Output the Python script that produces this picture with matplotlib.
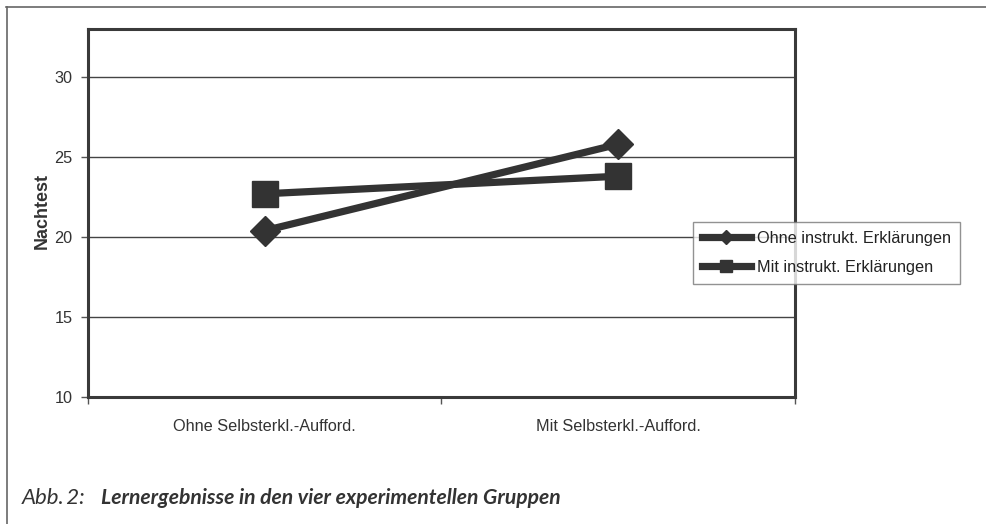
import matplotlib
matplotlib.use("Agg")
import matplotlib.pyplot as plt
from matplotlib.lines import Line2D

# ---- data ----
categories = ["Ohne Selbsterkl.-Aufford.", "Mit Selbsterkl.-Aufford."]
series_names = ["Ohne instrukt. Erklärungen", "Mit instrukt. Erklärungen"]
ohne_instr = [20.4, 25.8]
mit_instr = [22.7, 23.8]
y_ticks = [10, 15, 20, 25, 30]
y_label = "Nachtest"
caption_prefix = "Abb.\u20092:"
caption_text = "Lernergebnisse in den vier experimentellen Gruppen"

W, H = 987, 524
plt.rcParams['font.family'] = ['Liberation Sans', 'DejaVu Sans']
fig = plt.figure(figsize=(W / 100, H / 100), dpi=100)

def fx(px):
    return px / W

def fy(py):
    return 1 - py / H

# outer frame (left and top edges)
fig.add_artist(Line2D([fx(6.5), fx(6.5)], [fy(7), fy(530)], color="#666666", lw=1.2))
fig.add_artist(Line2D([fx(6), fx(1000)], [fy(7), fy(7)], color="#666666", lw=1.2))

L, R, T, B = 88, 795, 29, 397
ax = fig.add_axes([fx(L), fy(B), fx(R - L), (B - T) / H])

dark = "#333333"
x = list(range(len(categories)))
ax.plot(x, ohne_instr, color=dark, lw=5.2, marker="D", markersize=15,
        label=series_names[0], zorder=3)
ax.plot(x, mit_instr, color=dark, lw=5.2, marker="s", markersize=19,
        label=series_names[1], zorder=3)

fs = 11.7
ax.set_xlim(-0.5, 1.5)
ax.set_ylim(10, 33)
ax.set_yticks(y_ticks)
ax.set_yticklabels([str(v) for v in y_ticks])
ax.tick_params(axis="y", length=5, width=1, color="#555555", pad=6,
               labelsize=fs, labelcolor="#333333", direction="out")
ax.set_xticks([-0.5, 0.5, 1.5])
ax.set_xticklabels(["", "", ""])
ax.tick_params(axis="x", which="major", length=5, width=1, color="#555555")
ax.set_xticks(x, minor=True)
ax.set_xticklabels(categories, minor=True)
ax.tick_params(axis="x", which="minor", length=0, pad=16, labelsize=fs,
               labelcolor="#333333")

ax.yaxis.grid(True, color="#444444", lw=1.0, zorder=1)
ax.set_axisbelow(True)
for s in ax.spines.values():
    s.set_color("#3a3a3a")
    s.set_linewidth(2.2)

fig.text(fx(42), fy(211), y_label, rotation=90, ha="center", va="center",
         fontsize=13, fontweight="bold", color="#333333")

leg = ax.legend(loc="upper left", bbox_to_anchor=(fx(693), fy(222)),
                bbox_transform=fig.transFigure, frameon=True, fancybox=False,
                shadow=False, fontsize=fs, markerscale=0.45,
                handlelength=3.0, handletextpad=0.4, borderpad=0.55,
                labelspacing=0.85, borderaxespad=0)
leg.get_frame().set_edgecolor("#777777")
leg.get_frame().set_linewidth(1.0)
leg.set_zorder(10)
for t in leg.get_texts():
    t.set_color("#222222")

fig.text(fx(22), fy(504), caption_prefix, fontsize=16, style="italic",
         family=["Lato", "DejaVu Sans"], color="#333333", va="baseline")
fig.text(fx(101), fy(504), caption_text, fontsize=15.2, style="italic",
         fontweight="bold", family=["Lato", "DejaVu Sans"], color="#333333",
         va="baseline")

fig.savefig("out.png", dpi=100)
